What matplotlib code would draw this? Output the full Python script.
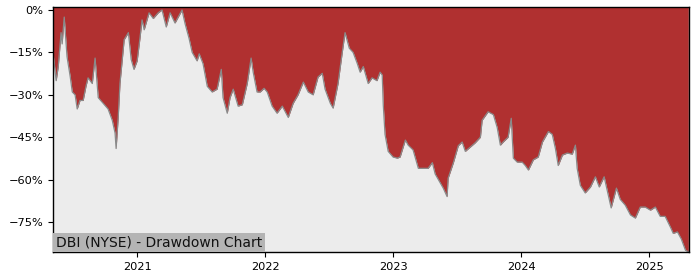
import matplotlib
matplotlib.use("Agg")
import matplotlib.pyplot as plt
import matplotlib.dates as mdates
from matplotlib.ticker import PercentFormatter, FixedLocator
import matplotlib.transforms as mtransforms
import pandas as pd

dates = [
    "2020-05-06", "2020-05-15", "2020-05-21", "2020-05-29", "2020-06-01", "2020-06-07",
    "2020-06-15", "2020-06-24", "2020-06-30", "2020-07-08", "2020-07-14", "2020-07-22",
    "2020-07-31", "2020-08-08", "2020-08-14", "2020-08-26", "2020-09-03", "2020-09-12",
    "2020-09-26", "2020-10-10", "2020-10-22", "2020-10-30", "2020-11-02", "2020-11-08",
    "2020-11-13", "2020-11-25", "2020-12-07", "2020-12-15", "2020-12-23", "2021-01-01",
    "2021-01-09", "2021-01-15", "2021-01-21", "2021-02-04", "2021-02-16", "2021-03-02",
    "2021-03-13", "2021-03-25", "2021-04-05", "2021-04-19", "2021-05-09", "2021-05-18",
    "2021-05-29", "2021-06-07", "2021-06-21", "2021-06-27", "2021-07-08", "2021-07-20",
    "2021-08-03", "2021-08-17", "2021-08-29", "2021-09-03", "2021-09-15", "2021-09-23",
    "2021-10-02", "2021-10-16", "2021-10-28", "2021-11-11", "2021-11-22", "2021-11-28",
    "2021-12-09", "2021-12-18", "2021-12-29", "2022-01-07", "2022-01-21", "2022-02-04",
    "2022-02-19", "2022-03-08", "2022-03-22", "2022-04-05", "2022-04-20", "2022-05-04",
    "2022-05-18", "2022-06-01", "2022-06-13", "2022-06-21", "2022-07-06", "2022-07-14",
    "2022-07-28", "2022-08-09", "2022-08-17", "2022-08-29", "2022-09-09", "2022-09-21",
    "2022-09-29", "2022-10-08", "2022-10-22", "2022-11-02", "2022-11-16", "2022-11-25",
    "2022-12-01", "2022-12-04", "2022-12-09", "2022-12-18", "2023-01-01", "2023-01-13",
    "2023-01-21", "2023-02-05", "2023-02-13", "2023-02-27", "2023-03-14", "2023-03-28",
    "2023-04-11", "2023-04-23", "2023-05-01", "2023-05-15", "2023-05-24", "2023-06-04",
    "2023-06-07", "2023-06-22", "2023-07-06", "2023-07-17", "2023-07-26", "2023-08-09",
    "2023-08-23", "2023-09-07", "2023-09-12", "2023-09-29", "2023-10-14", "2023-10-25",
    "2023-11-03", "2023-11-11", "2023-11-25", "2023-12-04", "2023-12-10", "2023-12-21",
    "2024-01-04", "2024-01-13", "2024-01-22", "2024-02-05", "2024-02-19", "2024-03-02",
    "2024-03-19", "2024-03-30", "2024-04-08", "2024-04-16", "2024-04-28", "2024-05-12",
    "2024-05-26", "2024-06-04", "2024-06-09", "2024-06-18", "2024-07-02", "2024-07-17",
    "2024-07-31", "2024-08-11", "2024-08-25", "2024-09-06", "2024-09-14", "2024-09-29",
    "2024-10-10", "2024-10-24", "2024-11-08", "2024-11-22", "2024-12-06", "2024-12-20",
    "2025-01-04", "2025-01-18", "2025-02-01", "2025-02-15", "2025-03-02", "2025-03-10",
    "2025-03-22", "2025-04-02", "2025-04-14", "2025-04-22",
]

drawdown_pct = [
    -15, -25, -20, -8, -12, -2.5,
    -16.5, -23.5, -29, -30, -35, -32,
    -32, -27, -24, -26, -17, -31,
    -33, -35, -39, -43.5, -49, -38,
    -26, -10.5, -8, -17.5, -21, -18,
    -10, -3.5, -7, -1, -3, -1,
    0, -6, -1, -4.6, 0, -5,
    -10, -15, -18, -15.5, -19, -27,
    -29, -28, -21, -31, -36.5, -31,
    -28, -34, -33.5, -26, -17, -22,
    -29, -29, -27.7, -29, -34, -36.5,
    -34, -38, -33, -30, -25.5, -29,
    -30, -23.7, -22.4, -28, -33, -34.7,
    -26, -15, -8, -13.5, -15, -19,
    -22, -20, -26, -24, -25, -22,
    -23, -33.6, -44, -50, -52, -52.4,
    -52, -46, -47.8, -49.5, -56, -56,
    -56, -54, -58, -61, -63, -66,
    -59.5, -54, -48, -46.7, -50, -48.5,
    -47, -45, -39, -36, -37, -41.6,
    -47.8, -46.7, -45, -38.3, -52.4, -53.8,
    -53.8, -55, -56.6, -53, -52, -46.7,
    -43, -44, -49, -55, -51.3, -50.6,
    -51, -47.8, -56, -62, -64.7, -62.6,
    -59, -62.6, -59, -65.5, -70, -63,
    -67, -69, -72.5, -73.6, -69.7, -69.7,
    -70.8, -69.7, -73, -73, -76.8, -79,
    -78.5, -81, -85, -85.5,
]

y_ticks = [0, -15, -30, -45, -60, -75]
x_tick_years = ["2021", "2022", "2023", "2024", "2025"]
title_text = "DBI (NYSE) - Drawdown Chart"

x = pd.to_datetime(dates)
y = [v / 100 for v in drawdown_pct]

fig = plt.figure(figsize=(7, 2.8), dpi=100)
ax = fig.add_axes([53 / 700, 1 - 252 / 280, (689 - 53) / 700, (252 - 7) / 280])
ax.set_facecolor("#ececec")
ax.fill_between(x, y, 0.02, color="#b03030", linewidth=0)
ax.plot(x, y, color="#8a8a8a", linewidth=0.9)

ax.set_xlim(x[0], x[-1] + pd.Timedelta(days=2))
ax.set_ylim(-0.856, 0.0106)
ax.yaxis.set_major_locator(FixedLocator([t / 100 for t in y_ticks]))
ax.yaxis.set_major_formatter(PercentFormatter(1.0, decimals=0))
ax.xaxis.set_major_locator(FixedLocator([mdates.date2num(pd.Timestamp(f"{yr}-01-01")) for yr in x_tick_years]))
ax.set_xticklabels(x_tick_years)
ax.tick_params(labelsize=8.2, length=3.5, width=0.8)
for s in ax.spines.values():
    s.set_linewidth(1.0)
    s.set_color("black")

offset = mtransforms.offset_copy(ax.transAxes, fig=fig, x=2.7, y=2.7, units="dots")
ax.text(0, 0, title_text, transform=offset, ha="left", va="bottom", fontsize=10.0,
        color="#111111",
        bbox=dict(facecolor="#b4b4b4", edgecolor="none", boxstyle="square,pad=0.19"))

fig.savefig("out.png", dpi=100)
